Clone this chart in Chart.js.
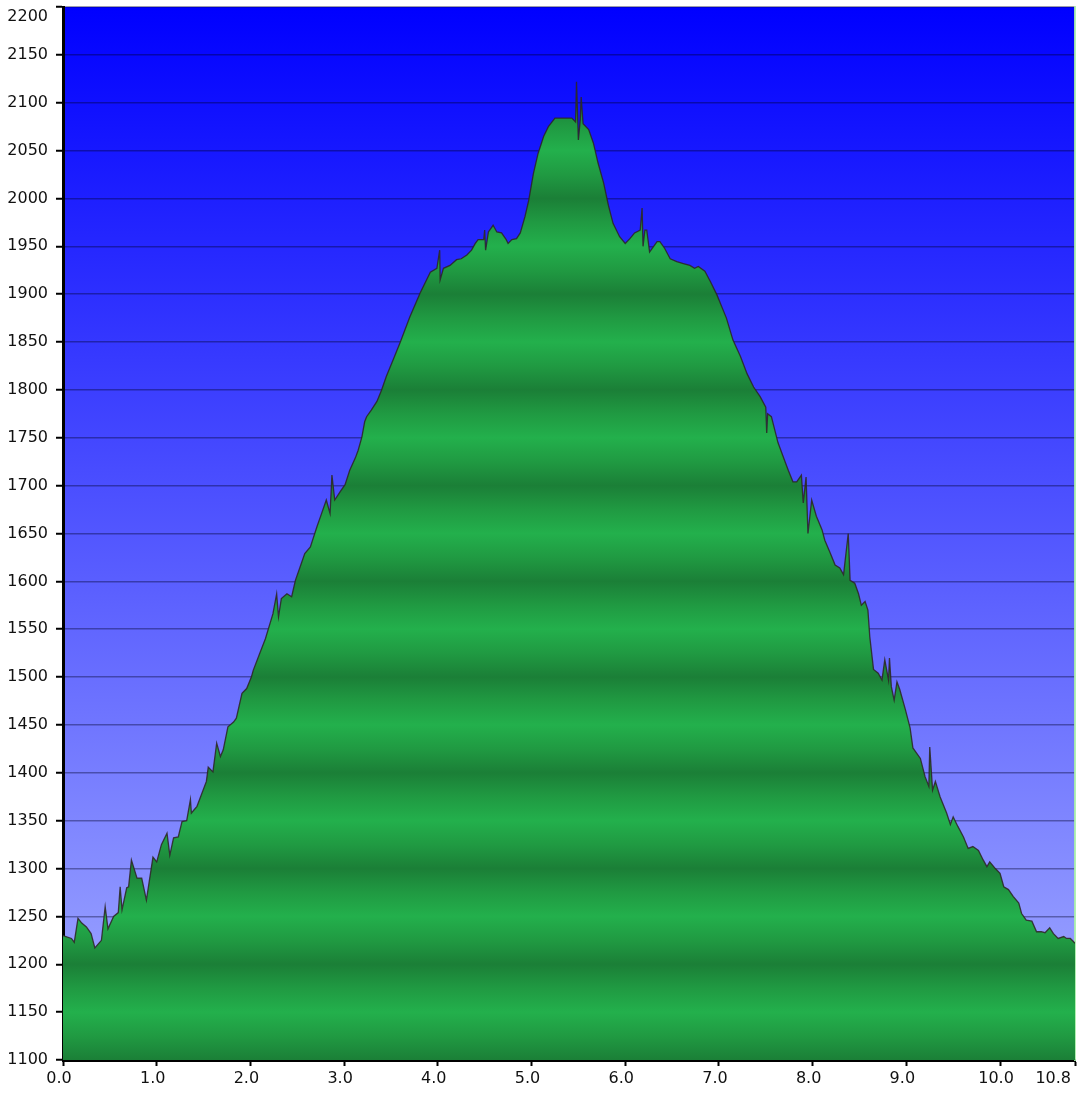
<!DOCTYPE html>
<html>
<head>
<meta charset="utf-8">
<script src="https://cdn.jsdelivr.net/npm/chart.js@4.4.1/dist/chart.umd.min.js"></script>
<style>
  body { margin: 0; background: #fff; }
  #wrap { width: 1080px; height: 1100px; }
</style>
</head>
<body>
<div id="wrap"><canvas id="profile"></canvas></div>
<script>
// distance along the track (km) and elevation (m)
const distKm = [0.0, 0.09, 0.12, 0.16, 0.20, 0.25, 0.30, 0.34, 0.41, 0.45, 0.48, 0.54, 0.59, 0.61, 0.63, 0.68, 0.70, 0.73, 0.79, 0.84,
  0.89, 0.96, 1.00, 1.05, 1.11, 1.14, 1.18, 1.23, 1.27, 1.32, 1.36, 1.37, 1.43, 1.53, 1.55, 1.60, 1.64, 1.68, 1.71, 1.76,
  1.82, 1.85, 1.91, 1.96, 2.01, 2.03, 2.10, 2.16, 2.24, 2.28, 2.30, 2.33, 2.39, 2.44, 2.48, 2.53, 2.58, 2.64, 2.71, 2.76,
  2.81, 2.85, 2.87, 2.90, 2.96, 3.01, 3.06, 3.12, 3.15, 3.19, 3.22, 3.24, 3.29, 3.35, 3.40, 3.45, 3.53, 3.60, 3.70, 3.81,
  3.92, 3.99, 4.02, 4.025, 4.06, 4.13, 4.20, 4.25, 4.31, 4.36, 4.40, 4.43, 4.49, 4.50, 4.51, 4.54, 4.59, 4.63, 4.68, 4.73,
  4.75, 4.79, 4.84, 4.88, 4.93, 4.97, 5.02, 5.07, 5.13, 5.18, 5.25, 5.34, 5.43, 5.47, 5.48, 5.50, 5.52, 5.53, 5.55, 5.61,
  5.66, 5.71, 5.77, 5.82, 5.87, 5.94, 6.00, 6.05, 6.10, 6.16, 6.18, 6.19, 6.21, 6.23, 6.26, 6.34, 6.37, 6.42, 6.48, 6.55,
  6.62, 6.69, 6.74, 6.78, 6.85, 6.91, 6.98, 7.03, 7.08, 7.15, 7.23, 7.30, 7.37, 7.44, 7.50, 7.51, 7.52, 7.56, 7.63, 7.71,
  7.74, 7.79, 7.83, 7.88, 7.90, 7.93, 7.95, 7.99, 8.04, 8.10, 8.13, 8.19, 8.24, 8.29, 8.33, 8.38, 8.40, 8.45, 8.49, 8.52,
  8.56, 8.59, 8.61, 8.65, 8.70, 8.74, 8.77, 8.81, 8.82, 8.84, 8.87, 8.90, 8.93, 8.99, 9.04, 9.07, 9.15, 9.20, 9.24, 9.25,
  9.28, 9.31, 9.36, 9.43, 9.47, 9.50, 9.55, 9.61, 9.66, 9.71, 9.77, 9.82, 9.86, 9.89, 9.95, 10.00, 10.04, 10.09, 10.14, 10.20,
  10.23, 10.28, 10.34, 10.39, 10.44, 10.48, 10.53, 10.57, 10.62, 10.68, 10.71, 10.75, 10.78, 10.80];

const elevM = [1230, 1227, 1223, 1248, 1243, 1239, 1232, 1217, 1225, 1260, 1237, 1250, 1254, 1281, 1257, 1280, 1281, 1309, 1290, 1290,
  1267, 1312, 1307, 1325, 1337, 1314, 1332, 1333, 1349, 1350, 1372, 1358, 1365, 1391, 1406, 1401, 1431, 1417, 1424, 1448,
  1453, 1457, 1483, 1488, 1500, 1507, 1525, 1540, 1566, 1587, 1563, 1582, 1587, 1584, 1601, 1615, 1629, 1636, 1657, 1671,
  1685, 1671, 1711, 1685, 1694, 1701, 1716, 1729, 1737, 1751, 1767, 1772, 1779, 1788, 1800, 1814, 1833, 1850, 1876, 1901,
  1923, 1927, 1946, 1915, 1927, 1930, 1936, 1937, 1941, 1946, 1953, 1957, 1957, 1967, 1946, 1965, 1972, 1965, 1964, 1957,
  1953, 1957, 1958, 1964, 1981, 1998, 2026, 2047, 2065, 2075, 2084, 2084, 2084, 2080, 2122, 2061, 2082, 2106, 2078, 2072,
  2058, 2037, 2016, 1993, 1974, 1960, 1953, 1958, 1964, 1967, 1990, 1950, 1967, 1967, 1944, 1955, 1955, 1948, 1937, 1934,
  1932, 1930, 1927, 1929, 1924, 1913, 1899, 1887, 1875, 1852, 1835, 1817, 1803, 1793, 1782, 1755, 1775, 1772, 1745, 1724,
  1716, 1704, 1704, 1711, 1682, 1709, 1650, 1685, 1668, 1654, 1643, 1629, 1617, 1614, 1607, 1650, 1601, 1598, 1587, 1575,
  1579, 1570, 1542, 1508, 1504, 1497, 1518, 1497, 1520, 1490, 1476, 1495, 1487, 1466, 1447, 1426, 1415, 1396, 1386, 1427,
  1382, 1391, 1375, 1358, 1346, 1354, 1344, 1333, 1321, 1323, 1319, 1309, 1302, 1307, 1300, 1295, 1281, 1278, 1271, 1264,
  1253, 1246, 1245, 1234, 1234, 1233, 1238, 1232, 1227, 1229, 1227, 1227, 1224, 1222];

const xTicks = [0, 1, 2, 3, 4, 5, 6, 7, 8, 9, 10, 10.8];
const yMin = 1100, yMax = 2200, yStep = 50;

const points = distKm.map((d, i) => ({ x: d, y: elevM[i] }));

// blue sky behind the plot
const skyPlugin = {
  id: 'sky',
  beforeDraw(chart) {
    const { ctx, chartArea: a } = chart;
    if (!a) return;
    const g = ctx.createLinearGradient(0, a.top, 0, a.bottom);
    g.addColorStop(0, '#0000ff');
    g.addColorStop(1, '#a4adff');
    ctx.save();
    ctx.fillStyle = g;
    ctx.fillRect(a.left, a.top, a.right - a.left, a.bottom - a.top);
    ctx.restore();
  }
};

// banded green fill, dark at every hundred, bright at the fifties
function greenBands(context) {
  const chart = context.chart;
  const a = chart.chartArea;
  if (!a) return '#22ae4b';
  const ys = chart.scales.y;
  const g = chart.ctx.createLinearGradient(0, a.bottom, 0, a.top);
  const span = a.bottom - a.top;
  for (let v = yMin; v <= yMax; v += 25) {
    const t = (a.bottom - ys.getPixelForValue(v)) / span;
    const r = v % 100;
    let c;
    if (r === 0) c = '#1b7f37';
    else if (r === 50) c = '#23b04c';
    else c = '#209a42';
    g.addColorStop(Math.min(1, Math.max(0, t)), c);
  }
  return g;
}

new Chart(document.getElementById('profile'), {
  type: 'line',
  data: {
    datasets: [{
      data: points,
      fill: 'start',
      backgroundColor: greenBands,
      borderColor: 'rgba(45, 35, 35, 0.85)',
      borderWidth: 1.3,
      pointRadius: 0,
      tension: 0
    }]
  },
  options: {
    responsive: true,
    maintainAspectRatio: false,
    animation: false,
    layout: { padding: { top: 7, right: 5, left: 0, bottom: 0 } },
    plugins: { legend: { display: false }, tooltip: { enabled: false } },
    scales: {
      x: {
        type: 'linear',
        min: 0,
        max: 10.8,
        afterBuildTicks: s => { s.ticks = xTicks.map(v => ({ value: v })); },
        afterFit: s => { s.height = 40; s.paddingLeft = 0; s.paddingRight = 0; },
        border: { color: '#000', width: 3 },
        grid: { drawOnChartArea: false, drawTicks: true, tickLength: 6, tickColor: '#000', tickWidth: 2 },
        ticks: {
          autoSkip: false,
          maxRotation: 0,
          padding: 3,
          labelOffset: -4,
          color: '#111',
          font: { family: 'DejaVu Sans', size: 16 },
          callback: v => (v === 10.8 ? '10.8       ' : v.toFixed(1))
        }
      },
      y: {
        min: yMin,
        max: yMax,
        afterFit: s => { s.width = 63; s.paddingTop = 0; s.paddingBottom = 0; },
        border: { color: '#000', width: 3 },
        grid: { color: 'rgba(0, 0, 40, 0.38)', lineWidth: 1.5, tickLength: 7, tickColor: '#000', tickWidth: 2 },
        ticks: {
          stepSize: yStep,
          padding: 8,
          color: '#111',
          font: { family: 'DejaVu Sans', size: 16 },
          callback: v => (v === yMax ? ['', String(v)] : String(v))
        }
      },
      y2: {
        position: 'right',
        min: yMin,
        max: yMax,
        afterFit: s => { s.width = 0; },
        border: { color: 'rgba(170, 240, 170, 0.9)', width: 2 },
        grid: { drawOnChartArea: false, drawTicks: false },
        ticks: { display: false }
      }
    }
  },
  plugins: [skyPlugin]
});
</script>
</body>
</html>
